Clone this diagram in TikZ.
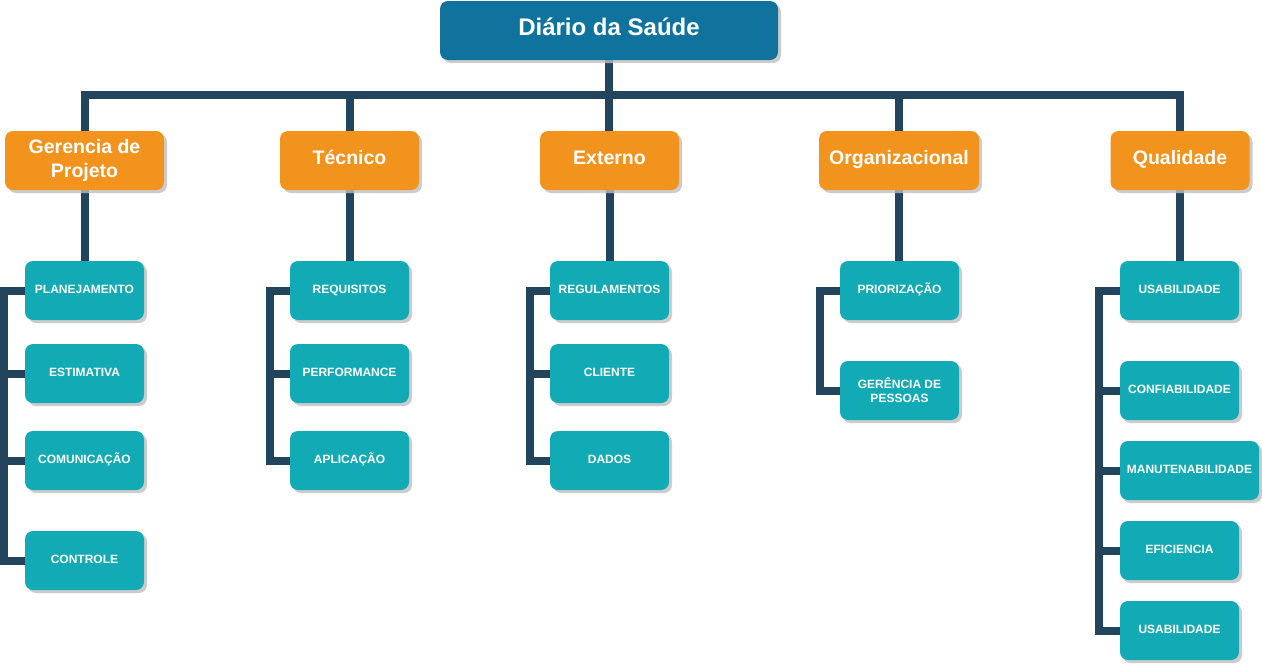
\documentclass[tikz,border=0pt]{standalone}
\usepackage{fontspec}
\setmainfont{Liberation Sans}
\usetikzlibrary{positioning}
\usetikzlibrary{shadows}
\definecolor{rootblue}{HTML}{10739E}
\definecolor{catorange}{HTML}{F2931E}
\definecolor{subteal}{HTML}{12AAB5}
\definecolor{linknavy}{HTML}{23445D}
\begin{document}
\begin{tikzpicture}[x = 1pt, y = -1pt,
	boxbase/.style = {rounded corners = 8pt, inner sep = 0pt, text = white, align = center, font = \bfseries,
		drop shadow = {shadow xshift = 3pt, shadow yshift = -3pt, fill = black!25, opacity = 0.8}},
	rootbox/.style = {boxbase, fill = rootblue, minimum width = 338pt, minimum height = 59pt, text height = 18pt, text depth = 8pt, font = \fontsize{24}{28}\selectfont\bfseries},
	catbox/.style = {boxbase, fill = catorange, minimum width = 139pt, minimum height = 59pt, font = \fontsize{19.5}{23.5}\selectfont\bfseries},
	catline/.style = {catbox, text height = 14pt, text depth = 6pt},
	subbox/.style = {boxbase, fill = subteal, minimum width = 119pt, minimum height = 59pt, font = \fontsize{12}{14}\selectfont\bfseries},
	subline/.style = {subbox, text height = 9pt, text depth = 3.4pt},
	link/.style = {draw = linknavy, line width = 8pt}]
	\useasboundingbox (0, 0) rectangle (1262, 664);
	\coordinate (bar) at (609, 95);
	\coordinate (gpb) at (4, 0);
	\coordinate (tcb) at (269.5, 0);
	\coordinate (exb) at (529.5, 0);
	\coordinate (ogb) at (819.5, 0);
	\coordinate (qlb) at (1099, 0);
	\draw [link] (609, 60) -- (609, 131);
	\draw [link] (84.5, 131) |- (bar) -| (1180, 131);
	\foreach \cx in {349.5, 899} \draw [link] (\cx, 95) -- (\cx, 131);
	\foreach \cx in {84.5, 349.5, 609.5, 899, 1180} \draw [link] (\cx, 190) -- (\cx, 261);
	\node [rootbox] (root) at (609, 30.5) {Diário da Saúde};
	\node [catbox, minimum width = 159pt] (gp) at (84.5, 160.5) {Gerencia de\\Projeto};
	\node [catline] (tc) at (349.5, 160.5) {Técnico};
	\node [catline] (ex) at (609.5, 160.5) {Externo};
	\node [catline, minimum width = 160pt] (og) at (899, 160.5) {Organizacional};
	\node [catline] (ql) at (1180, 160.5) {Qualidade};
	\node [subline] (pl) at (84.5, 290.5) {PLANEJAMENTO};
	\node [subline] (es) at (84.5, 373.5) {ESTIMATIVA};
	\node [subline] (cm) at (84.5, 460.5) {COMUNICAÇÃO};
	\node [subline] (ct) at (84.5, 560.5) {CONTROLE};
	\node [subline] (rq) at (349.5, 290.5) {REQUISITOS};
	\node [subline] (pf) at (349.5, 373.5) {PERFORMANCE};
	\node [subline] (ap) at (349.5, 460.5) {APLICAÇÃO};
	\node [subline] (rg) at (609.5, 290.5) {REGULAMENTOS};
	\node [subline] (cl) at (609.5, 373.5) {CLIENTE};
	\node [subline] (dd) at (609.5, 460.5) {DADOS};
	\node [subline] (pr) at (899.5, 290.5) {PRIORIZAÇÃO};
	\node [subbox] (gs) at (899.5, 390.5) {GERÊNCIA DE\\PESSOAS};
	\node [subline] (us) at (1179.5, 290.5) {USABILIDADE};
	\node [subline] (cf) at (1179.5, 390.5) {CONFIABILIDADE};
	\node [subline, minimum width = 139pt] (mn) at (1189.5, 470.5) {MANUTENABILIDADE};
	\node [subline] (ef) at (1179.5, 550.5) {EFICIENCIA};
	\node [subline] (ub) at (1179.5, 630.5) {USABILIDADE};
	\draw [link] (pl.west) -- (pl.west -| gpb) |- (ct.west);
	\foreach \n in {es, cm} \draw [link] (\n.west) -- (\n.west -| gpb);
	\draw [link] (rq.west) -- (rq.west -| tcb) |- (ap.west);
	\draw [link] (pf.west) -- (pf.west -| tcb);
	\draw [link] (rg.west) -- (rg.west -| exb) |- (dd.west);
	\draw [link] (cl.west) -- (cl.west -| exb);
	\draw [link] (pr.west) -- (pr.west -| ogb) |- (gs.west);
	\draw [link] (us.west) -- (us.west -| qlb) |- (ub.west);
	\foreach \n in {cf, mn, ef} \draw [link] (\n.west) -- (\n.west -| qlb);
\end{tikzpicture}
\end{document}
